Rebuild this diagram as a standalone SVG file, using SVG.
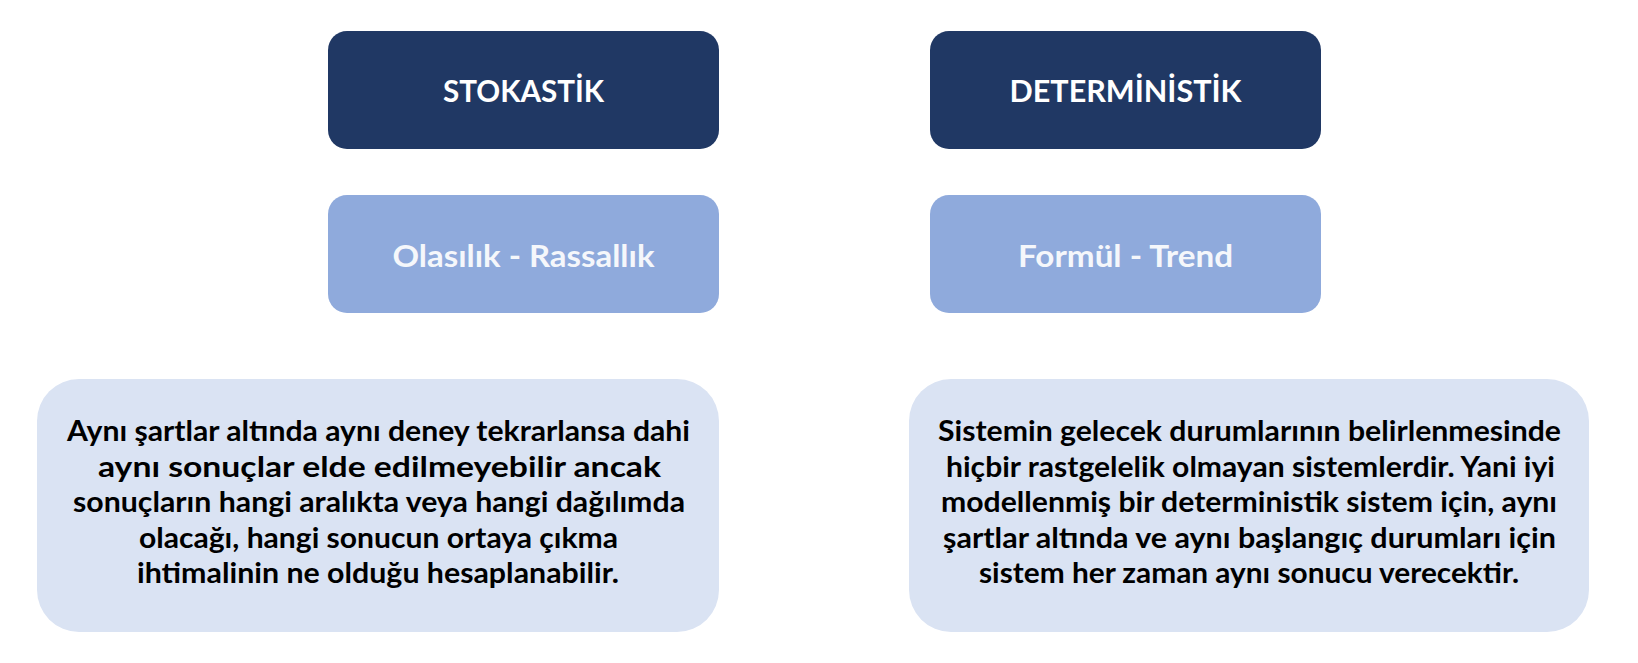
<svg xmlns="http://www.w3.org/2000/svg" width="1638" height="663" viewBox="0 0 1638 663">
<style>
.dark{fill:#203864}
.mid{fill:#8FAADC}
.light{fill:#DAE3F3}
.h{font-family:Lato,"Open Sans","Liberation Sans",sans-serif;font-weight:700;font-size:31px;fill:#FFFFFF;text-anchor:middle}
.s{font-family:Lato,"Open Sans","Liberation Sans",sans-serif;font-weight:700;font-size:31px;fill:#F5F7FB;text-anchor:middle}
.b{font-family:Lato,"Open Sans","Liberation Sans",sans-serif;font-weight:700;font-size:29px;fill:#000000;text-anchor:middle}
</style>
<rect width="1638" height="663" fill="#FFFFFF"/>
<g id="stokastik">
<rect class="dark" x="328" y="31" width="391" height="118" rx="19"/>
<text class="h" x="523.5" y="102" textLength="161" lengthAdjust="spacingAndGlyphs">STOKASTİK</text>
</g>
<g id="deterministik">
<rect class="dark" x="930" y="31" width="391" height="118" rx="19"/>
<text class="h" x="1125.5" y="102" textLength="232" lengthAdjust="spacingAndGlyphs">DETERMİNİSTİK</text>
</g>
<g id="olasilik">
<rect class="mid" x="328" y="195" width="391" height="118" rx="19"/>
<text class="s" x="523.5" y="267" textLength="262" lengthAdjust="spacingAndGlyphs">Olasılık - Rassallık</text>
</g>
<g id="formul">
<rect class="mid" x="930" y="195" width="391" height="118" rx="19"/>
<text class="s" x="1125.5" y="267" textLength="215" lengthAdjust="spacingAndGlyphs">Formül - Trend</text>
</g>
<g id="stokastik-desc">
<rect class="light" x="37" y="379" width="682" height="253" rx="42"/>
<text class="b" x="378.5" y="441" textLength="623" lengthAdjust="spacingAndGlyphs">Aynı şartlar altında aynı deney tekrarlansa dahi</text>
<text class="b" x="379.5" y="476.5" textLength="563" lengthAdjust="spacingAndGlyphs">aynı sonuçlar elde edilmeyebilir ancak</text>
<text class="b" x="379" y="512" textLength="612" lengthAdjust="spacingAndGlyphs">sonuçların hangi aralıkta veya hangi dağılımda</text>
<text class="b" x="378.5" y="547.5" textLength="479" lengthAdjust="spacingAndGlyphs">olacağı, hangi sonucun ortaya çıkma</text>
<text class="b" x="378" y="583" textLength="482" lengthAdjust="spacingAndGlyphs">ihtimalinin ne olduğu hesaplanabilir.</text>
</g>
<g id="deterministik-desc">
<rect class="light" x="909" y="379" width="680" height="253" rx="42"/>
<text class="b" x="1249.5" y="441" textLength="623" lengthAdjust="spacingAndGlyphs">Sistemin gelecek durumlarının belirlenmesinde</text>
<text class="b" x="1250.5" y="476.5" textLength="609" lengthAdjust="spacingAndGlyphs">hiçbir rastgelelik olmayan sistemlerdir. Yani iyi</text>
<text class="b" x="1249" y="512" textLength="616" lengthAdjust="spacingAndGlyphs">modellenmiş bir deterministik sistem için, aynı</text>
<text class="b" x="1249.5" y="547.5" textLength="613" lengthAdjust="spacingAndGlyphs">şartlar altında ve aynı başlangıç durumları için</text>
<text class="b" x="1249" y="583" textLength="540" lengthAdjust="spacingAndGlyphs">sistem her zaman aynı sonucu verecektir.</text>
</g>
<g id="connectors"></g>
</svg>
